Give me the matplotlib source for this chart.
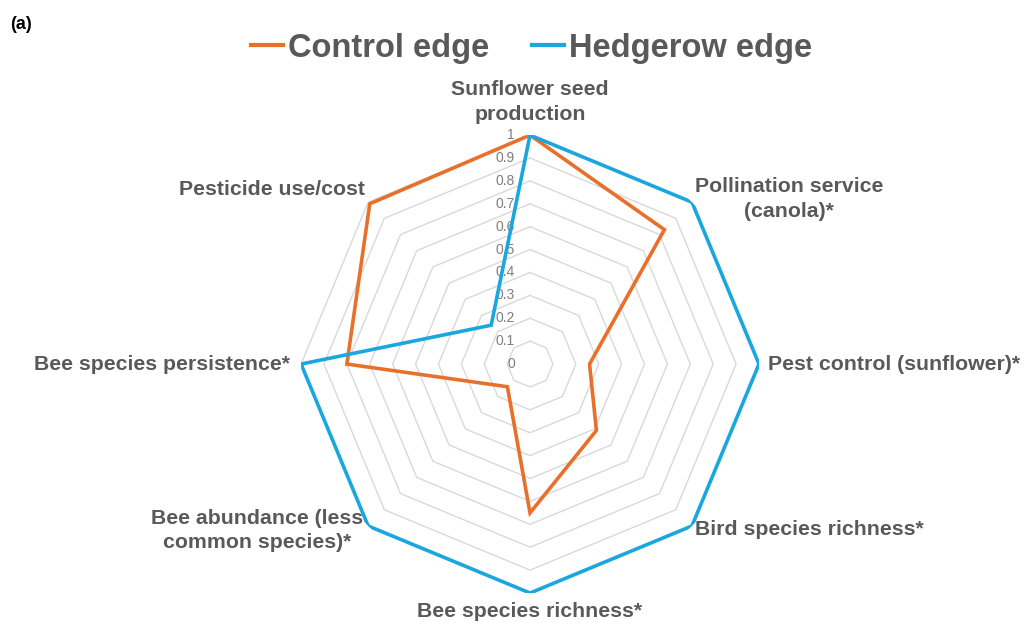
import numpy as np
import matplotlib
matplotlib.use("Agg")
import matplotlib.pyplot as plt

# data (clockwise from top)
categories = ["Sunflower seed\nproduction", "Pollination service\n(canola)*",
              "Pest control (sunflower)*", "Bird species richness*",
              "Bee species richness*", "Bee abundance (less\ncommon species)*",
              "Bee species persistence*", "Pesticide use/cost"]
control = [1.0, 0.83, 0.26, 0.41, 0.65, 0.14, 0.80, 0.99]
hedgerow = [1.0, 1.0, 1.0, 1.0, 1.0, 1.0, 1.0, 0.24]
rticks = [0, 0.1, 0.2, 0.3, 0.4, 0.5, 0.6, 0.7, 0.8, 0.9, 1]
rtick_labels = ["0", "0.1", "0.2", "0.3", "0.4", "0.5", "0.6", "0.7", "0.8", "0.9", "1"]

c_orange = "#E8702A"
c_blue = "#1AA7E0"
c_text = "#595959"

plt.rcParams['font.family'] = ['Liberation Sans', 'DejaVu Sans']

fig = plt.figure(figsize=(10.26, 6.29), dpi=100)
ax = fig.add_axes([0.2934, 0.0572, 0.4464, 0.728], projection='polar')
ax.set_theta_zero_location('N')
ax.set_theta_direction(-1)
ax.set_ylim(0, 1)
ax.grid(False)
ax.spines['polar'].set_visible(False)
ax.set_xticks([])
ax.set_yticks([])
ax.patch.set_alpha(0)

n = len(categories)
theta = np.linspace(0, 2 * np.pi, n, endpoint=False)
theta_c = np.append(theta, theta[0])

# octagon grid
for r in rticks[1:]:
    ax.plot(theta_c, [r] * (n + 1), color='#d9d9d9', lw=1.0, zorder=1)

# series
ax.plot(theta_c, control + control[:1], color=c_orange, lw=2.6, zorder=3,
        solid_joinstyle='miter', label='Control edge')
ax.plot(theta_c, hedgerow + hedgerow[:1], color=c_blue, lw=2.6, zorder=3,
        solid_joinstyle='miter', label='Hedgerow edge')

# radial tick labels along the top spoke
for r, lab in zip(rticks, rtick_labels):
    ax.annotate(lab, xy=(0, r), xytext=(-11, 0), textcoords='offset points',
                ha='right', va='center', fontsize=10, color='#7f7f7f', zorder=2)

# category labels
label_pos = [
    (1.05, 'center', 'bottom'),
    (1.02, 'left', 'center'),
    (1.04, 'left', 'center'),
    (1.02, 'left', 'center'),
    (1.04, 'center', 'top'),
    (1.03, 'right', 'center'),
    (1.05, 'right', 'center'),
    (1.02, 'right', 'bottom'),
]
for t, lab, (r, ha, va) in zip(theta, categories, label_pos):
    ax.text(t, r, lab, ha=ha, va=va, multialignment='center', fontsize=15.3,
            fontweight='bold', color=c_text, clip_on=False, linespacing=1.35)

leg = fig.legend(loc='upper center', bbox_to_anchor=(0.518, 0.995), ncol=2,
                 frameon=False, handlelength=1.0, handletextpad=0.15,
                 columnspacing=1.3,
                 prop={'family': ['Liberation Sans Narrow', 'Liberation Sans'],
                       'weight': 'bold', 'size': 23.5})
for txt in leg.get_texts():
    txt.set_color(c_text)
for h in leg.legend_handles:
    h.set_linewidth(3)

fig.text(0.01, 0.975, "(a)", fontsize=13, fontweight='bold', color='black',
         ha='left', va='top')

fig.savefig("out.png", dpi=100, facecolor='white')
